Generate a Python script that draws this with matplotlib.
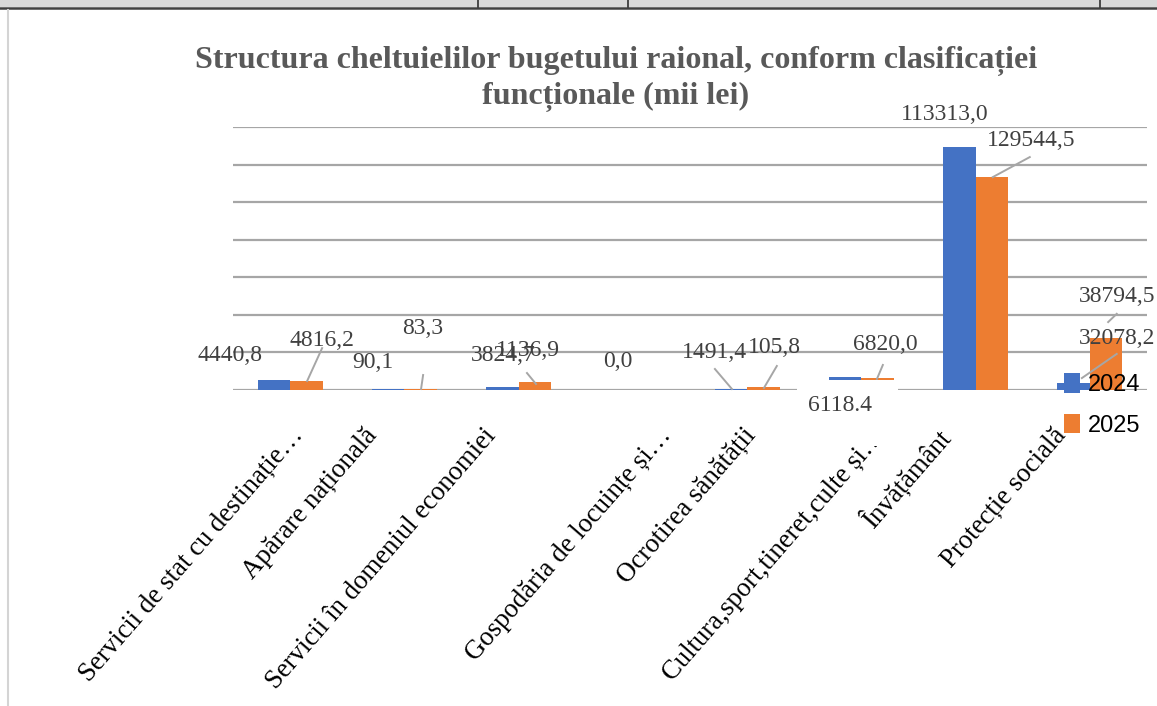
import matplotlib
matplotlib.use("Agg")
import matplotlib.pyplot as plt
import numpy as np
from matplotlib.patches import Rectangle
from matplotlib.lines import Line2D

# date (mii lei)
categorii = [
    "Servicii de stat cu destinație…",
    "Apărare națională",
    "Servicii în domeniul economiei",
    "Gospodăria de locuințe și…",
    "Ocrotirea sănătății",
    "Cultura,sport,tineret,culte și…",
    "Învățământ",
    "Protecție socială",
]
ani = ["2024", "2025"]
valori_2024 = [4816.2, 90.1, 1136.9, 0.0, 105.8, 6820.0, 129544.5, 3500.0]
valori_2025 = [4440.8, 83.3, 3824.7, 0.0, 1491.4, 6118.4, 113313.0, 27500.0]

# etichete de date asa cum apar in grafic
etichete = ["4440,8", "4816,2", "90,1", "83,3", "3824,7", "1136,9", "0,0",
            "1491,4", "105,8", "6820,0", "6118.4", "113313,0", "129544,5",
            "38794,5", "32078,2"]

titlu = "Structura cheltuielilor bugetului raional, conform clasificației\nfuncționale (mii lei)"

albastru = "#4472C4"
portocaliu = "#ED7D31"
gri_grila = "#a6a6a6"

W, H = 1157, 706
fig = plt.figure(figsize=(W / 100, H / 100), dpi=100)
fig.patch.set_facecolor("white")

# zona graficului (pixeli masurati pe imagine)
x0, x1 = 233, 1147
y_top, y_base = 127.3, 389.5
ax = fig.add_axes([x0 / W, 1 - y_base / H, (x1 - x0) / W, (y_base - y_top) / H])
px_cat = (x1 - x0) / 8.0

x = np.arange(len(categorii))
lat = 0.285
b1 = ax.bar(x - lat / 2, valori_2024, lat, color=albastru, zorder=3, label=ani[0])
b2 = ax.bar(x + lat / 2, valori_2025, lat, color=portocaliu, zorder=3, label=ani[1])

ax.set_xlim(-0.5, len(categorii) - 0.5)
ax.set_ylim(0, 140000)
ax.set_yticks(np.arange(0, 140001, 20000))
ax.yaxis.grid(True, color=gri_grila, linewidth=1.6, zorder=0)
ax.tick_params(left=False, bottom=False, labelleft=False, labelbottom=False)
for s in ax.spines.values():
    s.set_visible(False)

serif = "Liberation Serif"

# etichete categorii, rotite (decalaj in pixeli fata de centrul categoriei)
decalaj = [-1, -41, -36, 25, -5, 11, -40, -38]
for i, c in enumerate(categorii):
    ax.text(i + decalaj[i] / px_cat, -18000, c, rotation=49, rotation_mode="anchor",
            ha="right", va="top", fontsize=19.3, family=serif, color="black",
            clip_on=False)

# pozitii etichete (unitati de date) si linii de legatura
poz = [(-0.525, 18400), (0.28, 26400), (0.726, 14150), (1.164, 32800),
       (1.864, 18400), (2.082, 20600), (2.87, 14700), (3.718, 20000),
       (4.243, 22200), (5.206, 23800), (4.812, -8300), (5.731, 146600),
       (6.483, 132700), (7.235, 49900), (7.235, 27000)]
legaturi = [((0.28, 22100), (0.149, 4540)),
            ((1.164, 7740), (1.146, 270)),
            ((2.073, 8800), (2.152, 2940)),
            ((3.718, 10950), (3.867, 270)),
            ((4.26, 12550), (4.147, 800)),
            ((5.188, 13100), (5.136, 5600)),
            ((6.474, 124100), (6.15, 113400)),
            ((7.235, 19000), (6.93, 6100)),
            ((7.235, 40400), (7.16, 36000))]

for (p, q) in legaturi:
    ax.plot([p[0], q[0]], [p[1], q[1]], color="#a6a6a6", lw=1.4, zorder=4,
            clip_on=False)

# fundal alb al etichetei 6118.4 (acopera baza barelor)
ax.add_patch(Rectangle((4.436, -30000), 0.883, 35000, facecolor="white",
                       edgecolor="none", zorder=5, clip_on=False))

for t, (px, py) in zip(etichete, poz):
    ax.text(px, py, t, ha="center", va="center", fontsize=17, family=serif,
            color="#404040", zorder=6, clip_on=False)

# legenda
leg = ax.legend(handles=[b1, b2], labels=ani, loc="upper left",
                bbox_to_anchor=(1043 / W, 1 - 352 / H),
                bbox_transform=fig.transFigure, frameon=False,
                handlelength=0.65, handleheight=0.9,
                handletextpad=0.35, labelspacing=0.75,
                prop={"family": "Liberation Sans", "size": 17})
leg.set_zorder(7)

# titlu
fig.text(616 / W, 1 - 79 / H, titlu, ha="center", va="center",
         fontsize=23, fontweight="bold", family=serif, color="#595959",
         linespacing=1.3)

# fasia de sus (margine de tabel) si linia din stanga
fig.patches.append(Rectangle((0, 1 - 7 / H), 1, 7 / H, transform=fig.transFigure,
                             facecolor="#d9d9d9", edgecolor="none"))
fig.lines.append(Line2D([0, 1], [1 - 7.5 / H, 1 - 7.5 / H], transform=fig.transFigure,
                        color="#404040", lw=1.8))
for vx in [478, 628, 1100]:
    fig.lines.append(Line2D([vx / W, vx / W], [1, 1 - 7 / H], transform=fig.transFigure,
                            color="#303030", lw=1.2))
fig.lines.append(Line2D([8 / W, 8 / W], [0, 1 - 10 / H], transform=fig.transFigure,
                        color="#d4d4d4", lw=1.5))

fig.savefig("out.png", dpi=100)
